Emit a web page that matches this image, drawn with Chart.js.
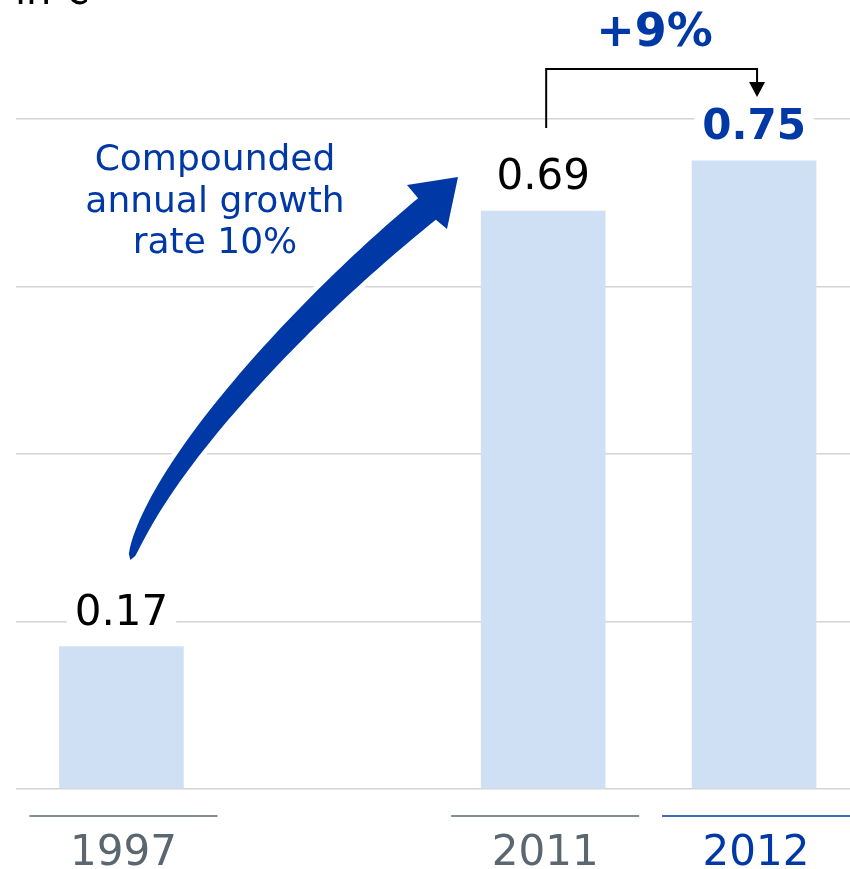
<!DOCTYPE html>
<html>
<head>
<meta charset="utf-8">
<script src="https://cdn.jsdelivr.net/npm/chart.js@4"></script>
<style>
  html, body { margin: 0; padding: 0; background: #fff; }
  canvas { display: block; }
</style>
</head>
<body>
<canvas id="eps_chart" width="850" height="869"></canvas>
<script>
// data
const years = ['1997', '2011', '2012'];
const slots = [0, 2, 3];            // 1997 sits two slots left of 2011
const values = [0.17, 0.69, 0.75];
const yTicks = [0, 0.2, 0.4, 0.6, 0.8];
const unitLabel = 'in €';
const cagrText = ['Compounded', 'annual growth', 'rate 10%'];
const changeText = '+9%';

const BLUE = '#0039a6';
const GREY = '#5b6770';
const FONT = "'DejaVu Sans', Verdana, sans-serif";

const annotate = {
    id: 'annotate',
    beforeDraw(chart) {
        const ctx = chart.ctx;
        ctx.save();
        ctx.fillStyle = '#fff';
        ctx.fillRect(0, 0, chart.width, chart.height);
        ctx.restore();
    },
    afterDatasetsDraw(chart) {
        const ctx = chart.ctx;
        const xs = chart.scales.x, ys = chart.scales.y;
        const last = years.length - 1;
        ctx.save();

        // unit label, cut off at top
        ctx.fillStyle = '#000';
        ctx.font = '40px ' + FONT;
        ctx.textAlign = 'left';
        ctx.textBaseline = 'alphabetic';
        ctx.fillText(unitLabel, 15, 4);

        // value labels over bars (white box breaks the gridline)
        values.forEach((v, i) => {
            const x = xs.getPixelForValue(slots[i]);
            const y = ys.getPixelForValue(v) - 22;
            const txt = v.toFixed(2);
            ctx.font = (i === last ? 'bold ' : '') + '42px ' + FONT;
            const w = ctx.measureText(txt).width;
            ctx.fillStyle = '#fff';
            ctx.fillRect(x - w / 2 - 8, y - 34, w + 16, 42);
            ctx.fillStyle = i === last ? BLUE : '#000';
            ctx.textAlign = 'center';
            ctx.fillText(txt, x, y);
        });

        // year labels with rule above
        years.forEach((yr, i) => {
            const x = xs.getPixelForValue(slots[i]) + 2;
            const col = i === last ? BLUE : GREY;
            ctx.strokeStyle = col;
            ctx.lineWidth = 1.5;
            ctx.beginPath();
            ctx.moveTo(x - 94, 816);
            ctx.lineTo(x + 94, 816);
            ctx.stroke();
            ctx.fillStyle = col;
            ctx.font = '42px ' + FONT;
            ctx.textAlign = 'center';
            ctx.fillText(yr, x, 865);
        });

        // bracket from 2011 to 2012 with arrow head
        const bx1 = xs.getPixelForValue(slots[last - 1]) + 3;
        const bx2 = xs.getPixelForValue(slots[last]) + 3;
        const top = 69;
        ctx.strokeStyle = '#000';
        ctx.lineWidth = 2;
        ctx.beginPath();
        ctx.moveTo(bx1, 128);
        ctx.lineTo(bx1, top);
        ctx.lineTo(bx2, top);
        ctx.lineTo(bx2, 84);
        ctx.stroke();
        ctx.fillStyle = '#000';
        ctx.beginPath();
        ctx.moveTo(bx2 - 8, 82);
        ctx.lineTo(bx2 + 8, 82);
        ctx.lineTo(bx2, 97);
        ctx.closePath();
        ctx.fill();

        ctx.fillStyle = BLUE;
        ctx.font = 'bold 46px ' + FONT;
        ctx.textAlign = 'center';
        ctx.fillText(changeText, (bx1 + bx2) / 2 + 3, 46);

        // CAGR text
        ctx.font = '36px ' + FONT;
        cagrText.forEach((line, i) => ctx.fillText(line, 215, 170 + i * 41.5));

        // curved tapering arrow
        const p0 = [xs.getPixelForValue(slots[0]) + 9, 560];
        const c1 = [160, 460], c2 = [315, 300], p3 = [427, 209];
        const pt = t => {
            const a = (1 - t) ** 3, b = 3 * t * (1 - t) ** 2, c = 3 * t * t * (1 - t), d = t ** 3;
            return [a * p0[0] + b * c1[0] + c * c2[0] + d * p3[0],
                    a * p0[1] + b * c1[1] + c * c2[1] + d * p3[1]];
        };
        const left = [], right = [];
        const N = 60;
        for (let k = 0; k <= N; k++) {
            const t = k / N;
            const p = pt(t);
            const q = pt(Math.min(1, t + 0.01)), r = pt(Math.max(0, t - 0.01));
            let dx = q[0] - r[0], dy = q[1] - r[1];
            const len = Math.hypot(dx, dy);
            dx /= len; dy /= len;
            const hw = 14 * Math.pow(t, 0.35);
            left.push([p[0] + dy * hw, p[1] - dx * hw]);
            right.push([p[0] - dy * hw, p[1] + dx * hw]);
        }
        const arrowPath = () => {
            ctx.beginPath();
            ctx.moveTo(left[0][0], left[0][1]);
            left.forEach(p => ctx.lineTo(p[0], p[1]));
            ctx.lineTo(407, 185);
            ctx.lineTo(458, 177);
            ctx.lineTo(447, 229);
            for (let k = right.length - 1; k >= 0; k--) ctx.lineTo(right[k][0], right[k][1]);
            ctx.closePath();
        };
        arrowPath();
        ctx.strokeStyle = '#fff';
        ctx.lineWidth = 10;
        ctx.lineJoin = 'round';
        ctx.stroke();
        arrowPath();
        ctx.fillStyle = BLUE;
        ctx.fill();

        ctx.restore();
    }
};

new Chart(document.getElementById('eps_chart').getContext('2d'), {
    type: 'bar',
    data: {
        datasets: [{
            data: slots.map((s, i) => ({ x: s, y: values[i] })),
            backgroundColor: '#cfe0f4',
            barThickness: 124,
            borderWidth: 0
        }]
    },
    options: {
        responsive: false,
        animation: false,
        devicePixelRatio: 1,
        layout: { padding: { top: 119, bottom: 80, left: 16, right: 0 } },
        plugins: { legend: { display: false }, tooltip: { enabled: false } },
        scales: {
            x: { type: 'linear', min: -0.5, max: 3.455, offset: false, display: false },
            y: {
                min: 0, max: 0.8,
                afterBuildTicks: axis => { axis.ticks = yTicks.map(v => ({ value: v })); },
                ticks: { display: false },
                border: { display: false },
                grid: { color: '#d4d4d4', lineWidth: 1.5, drawTicks: false, tickLength: 0 }
            }
        }
    },
    plugins: [annotate]
});
</script>
</body>
</html>
